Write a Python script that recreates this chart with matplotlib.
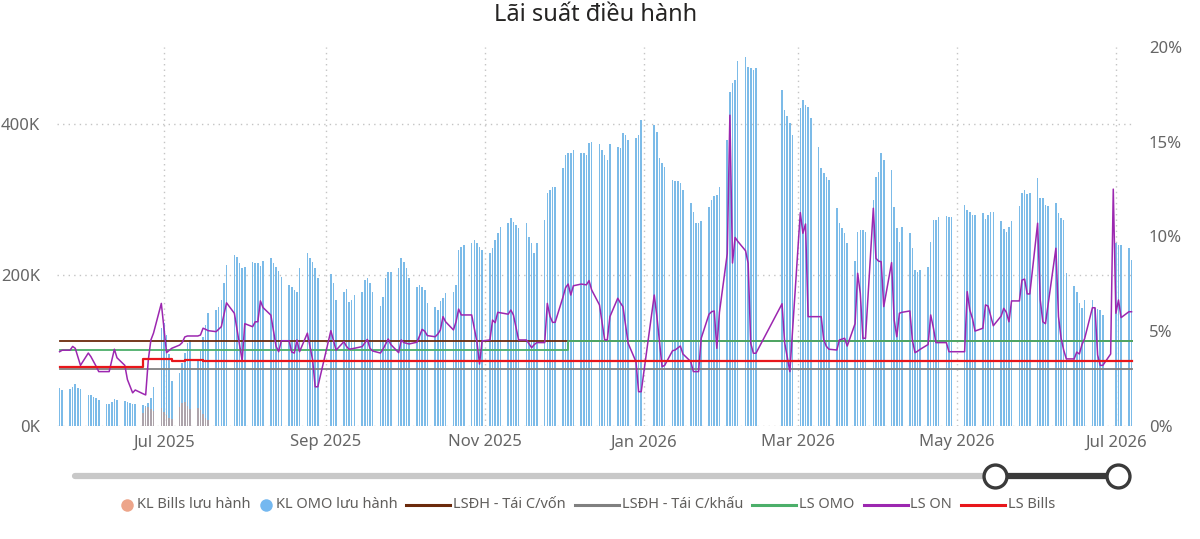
import matplotlib
matplotlib.use("Agg")
import matplotlib.pyplot as plt
import matplotlib.dates as mdates
import numpy as np
import pandas as pd

plt.rcParams['font.family'] = ['Noto Sans', 'DejaVu Sans']

nan = np.nan

# --- KL OMO lưu hành (nghìn tỷ, hiển thị dạng K), mỗi dòng = 1 tuần làm việc ---
omo_start = "2025-05-22"
omo_end = "2026-07-07"
omo_vals = [
    50, 48,
    49, 52, 55, 50, 49,
    41, 41, 39, 37, 34,
    29, 29, 32, 36, 34,
    33, 32, 30, 29, 29,
    28, 26, 30, 37, 52,
    130, 136, 120, 95, 60,
    70, 83, 97, 110, 114,
    88, 100, 118, 134, 150,
    154, 158, 167, 189, 213,
    226, 224, 216, 209, 211,
    217, 216, 216, 212, 218,
    222, 216, 211, 205, 197,
    187, 184, 180, 178, 209,
    229, 222, 217, 209, 196,
    nan, nan, 201, 189, 167,
    178, 182, 164, 167, 173,
    178, 193, 196, 189, 178,
    159, 171, 196, 204, 204,
    209, 222, 217, 209, 196,
    184, 187, 184, 180, 163,
    158, 154, 165, 170, 176,
    178, 187, 233, 237, 240,
    242, 246, 242, 237, 233,
    229, 236, 246, 255, 264,
    269, 275, 270, 266, 262,
    269, 250, 242, 229, 242,
    273, 308, 312, 317, 317,
    342, 359, 362, 362, 366,
    362, 362, 359, 375, 376,
    373, 366, 359, 352, 373,
    370, 368, 388, 385, 379,
    381, 385, 405, nan, nan,
    399, 390, 355, 348, 343,
    326, 324, 324, 322, 313,
    295, 284, 269, 269, 271,
    290, 299, 304, 306, 317,
    379, 443, 454, 458, 483,
    489, 476, 474, 472, 474,
    nan, nan, nan, nan, nan,
    445, 419, 410, 401, 385,
    421, 432, 425, 423, 408,
    370, 342, 335, 330, 326,
    289, 269, 262, 255, 242,
    218, 257, 260, 260, 257,
    300, 330, 337, 361, 352,
    339, 290, 262, 244, 264,
    255, 236, 207, 204, 207,
    211, 244, 273, 273, 277,
    278, 277, 277, nan, nan,
    293, 286, 283, 280, 280,
    282, 274, 280, 283, 284,
    271, 261, 257, 264, 271,
    291, 308, 312, 307, 308,
    328, 302, 302, 293, 291,
    295, 282, 275, 273, 202,
    185, 178, 163, 156, 167,
    167, 156, 155, 154, 147,
    nan, nan, 242, 240, 240,
    236, 220,
]

# --- KL Bills lưu hành ---
bills_start = "2025-06-23"
bills_vals = [17, 24, 25, 22, 20,
              24, 19, 14, 11, 9,
              25, 30, 32, 27, 22,
              24, 21, 16, 11, 8]

# --- LS ON (%) ---
on_dates = [
    "2025-05-22", "2025-05-23", "2025-05-26", "2025-05-27", "2025-05-28", "2025-05-30",
    "2025-06-02", "2025-06-03", "2025-06-05", "2025-06-06", "2025-06-10", "2025-06-12",
    "2025-06-13", "2025-06-16", "2025-06-17", "2025-06-19", "2025-06-20", "2025-06-23",
    "2025-06-24", "2025-06-25", "2025-06-26", "2025-06-27", "2025-06-30", "2025-07-02",
    "2025-07-04", "2025-07-07", "2025-07-08", "2025-07-09", "2025-07-10", "2025-07-14",
    "2025-07-15", "2025-07-16", "2025-07-17", "2025-07-18", "2025-07-21", "2025-07-23",
    "2025-07-25", "2025-07-28", "2025-07-31", "2025-08-01", "2025-08-04", "2025-08-05",
    "2025-08-06", "2025-08-07", "2025-08-08", "2025-08-11", "2025-08-13", "2025-08-14",
    "2025-08-15", "2025-08-18", "2025-08-19", "2025-08-20", "2025-08-21", "2025-08-22",
    "2025-08-25", "2025-08-27", "2025-08-28", "2025-08-29", "2025-09-03", "2025-09-05",
    "2025-09-08", "2025-09-09", "2025-09-10", "2025-09-12", "2025-09-15", "2025-09-17",
    "2025-09-18", "2025-09-19", "2025-09-22", "2025-09-23", "2025-09-25", "2025-09-26",
    "2025-09-29", "2025-09-30", "2025-10-01", "2025-10-03", "2025-10-06", "2025-10-07",
    "2025-10-08", "2025-10-09", "2025-10-10", "2025-10-13", "2025-10-14", "2025-10-15",
    "2025-10-16", "2025-10-17", "2025-10-20", "2025-10-21", "2025-10-22", "2025-10-23",
    "2025-10-27", "2025-10-29", "2025-10-30", "2025-10-31", "2025-11-03", "2025-11-04",
    "2025-11-05", "2025-11-06", "2025-11-10", "2025-11-11", "2025-11-12", "2025-11-14",
    "2025-11-17", "2025-11-19", "2025-11-20", "2025-11-21", "2025-11-24", "2025-11-25",
    "2025-11-26", "2025-11-27", "2025-11-28", "2025-12-01", "2025-12-02", "2025-12-03",
    "2025-12-04", "2025-12-05", "2025-12-08", "2025-12-10", "2025-12-11", "2025-12-12",
    "2025-12-15", "2025-12-17", "2025-12-18", "2025-12-19", "2025-12-22", "2025-12-23",
    "2025-12-24", "2025-12-26", "2025-12-29", "2025-12-30", "2025-12-31", "2026-01-05",
    "2026-01-06", "2026-01-08", "2026-01-09", "2026-01-12", "2026-01-13", "2026-01-15",
    "2026-01-16", "2026-01-19", "2026-01-20", "2026-01-22", "2026-01-23", "2026-01-26",
    "2026-01-27", "2026-01-28", "2026-01-29", "2026-01-30", "2026-02-02", "2026-02-03",
    "2026-02-04", "2026-02-05", "2026-02-06", "2026-02-09", "2026-02-10", "2026-02-11",
    "2026-02-12", "2026-02-13", "2026-02-23", "2026-02-24", "2026-02-26", "2026-03-02",
    "2026-03-03", "2026-03-04", "2026-03-05", "2026-03-10", "2026-03-11", "2026-03-12",
    "2026-03-13", "2026-03-16", "2026-03-17", "2026-03-19", "2026-03-20", "2026-03-23",
    "2026-03-24", "2026-03-25", "2026-03-26", "2026-03-27", "2026-03-30", "2026-03-31",
    "2026-04-01", "2026-04-02", "2026-04-03", "2026-04-06", "2026-04-07", "2026-04-08",
    "2026-04-09", "2026-04-10", "2026-04-13", "2026-04-14", "2026-04-15", "2026-04-16",
    "2026-04-17", "2026-04-20", "2026-04-21", "2026-04-22", "2026-04-23", "2026-04-27",
    "2026-04-28", "2026-05-04", "2026-05-05", "2026-05-06", "2026-05-07", "2026-05-08",
    "2026-05-11", "2026-05-12", "2026-05-13", "2026-05-15", "2026-05-18", "2026-05-19",
    "2026-05-20", "2026-05-21", "2026-05-22", "2026-05-25", "2026-05-26", "2026-05-27",
    "2026-05-28", "2026-05-29", "2026-06-01", "2026-06-02", "2026-06-03", "2026-06-04",
    "2026-06-08", "2026-06-09", "2026-06-10", "2026-06-11", "2026-06-12", "2026-06-15",
    "2026-06-16", "2026-06-17", "2026-06-18", "2026-06-19", "2026-06-22", "2026-06-23",
    "2026-06-24", "2026-06-25", "2026-06-26", "2026-06-29", "2026-06-30", "2026-07-01",
    "2026-07-02", "2026-07-03", "2026-07-06", "2026-07-07",
]
on_vals = [
    3.92, 4.0, 4.0, 4.2, 4.1, 3.2,
    3.85, 3.66, 3.15, 2.87, 2.87, 4.05,
    3.6, 3.2, 2.45, 1.75, 1.9, 1.7,
    1.64, 3.48, 4.54, 4.9, 6.47, 3.87,
    4.1, 4.27, 4.4, 4.7, 4.75, 4.75,
    4.8, 5.16, 5.1, 5.03, 4.98, 5.24,
    6.5, 5.95, 3.45, 5.4, 5.24, 5.5,
    5.5, 6.6, 6.25, 5.85, 4.2, 3.92,
    4.5, 4.5, 3.9, 3.85, 4.54, 3.92,
    4.9, 3.5, 2.07, 2.07, 5.03, 4.0,
    4.45, 4.2, 4.05, 4.1, 4.19, 4.57,
    4.1, 3.96, 3.85, 4.05, 4.59, 4.3,
    3.87, 4.54, 4.4, 4.33, 4.42, 4.75,
    5.1, 5.0, 4.77, 4.71, 4.85, 5.07,
    5.77, 5.5, 5.07, 5.5, 6.17, 5.86,
    5.86, 4.45, 3.27, 4.49, 4.54, 5.59,
    5.45, 6.0, 5.9, 6.12, 5.86, 4.54,
    4.54, 4.13, 4.3, 4.4, 4.4, 6.47,
    5.8, 5.47, 5.47, 6.8, 7.3, 7.49,
    6.91, 7.4, 7.49, 7.45, 7.67, 7.18,
    6.39, 4.54, 4.54, 5.77, 6.74, 6.5,
    6.3, 4.36, 3.39, 1.81, 1.81, 6.91,
    5.8, 3.13, 3.2, 3.97, 4.01, 4.22,
    3.8, 3.4, 2.87, 2.87, 4.63, 5.9,
    6.03, 6.07, 4.1, 6.0, 9.1, 16.4,
    8.6, 9.95, 9.75, 9.25, 8.59, 4.36,
    3.84, 3.84, 6.45, 4.4, 2.87, 11.26,
    10.17, 10.66, 5.77, 5.77, 4.54, 4.2,
    4.05, 4.01, 4.54, 4.63, 4.22, 5.4,
    8.06, 7.0, 4.63, 4.63, 11.49, 8.85,
    8.7, 8.67, 6.3, 8.62, 5.59, 4.71,
    5.95, 6.0, 6.07, 4.5, 3.87, 3.95,
    4.05, 4.3, 5.86, 5.2, 4.4, 4.4,
    3.92, 3.92, 7.09, 6.12, 5.68, 5.01,
    5.16, 6.39, 6.33, 5.29, 5.8, 6.21,
    6.0, 5.5, 6.6, 6.6, 7.7, 7.75,
    6.97, 6.97, 10.7, 6.65, 5.5, 5.4,
    9.38, 5.77, 4.63, 4.0, 3.54, 3.54,
    3.9, 3.8, 4.3, 4.6, 6.24, 6.24,
    3.75, 3.2, 3.2, 3.8, 12.5, 5.95,
    6.65, 5.72, 6.03, 6.03,
]

# --- Lãi suất điều hành (bậc thang) ---
von_dates = ["2025-05-22", "2026-07-07"]
von_rate = [4.5, 4.5]
khau_dates = ["2025-05-22", "2026-07-07"]
khau_rate = [3.0, 3.0]
lsomo_dates = ["2025-05-22", "2025-12-03", "2026-07-07"]
lsomo_rate = [4.0, 4.5, 4.5]
lsbills_dates = ["2025-05-22", "2025-06-23", "2025-07-04", "2025-07-09", "2025-07-16", "2026-07-07"]
lsbills_rate = [3.1, 3.55, 3.42, 3.48, 3.43, 3.43]

# --- colours ---
c_omo = "#7cbbe8"
c_bills_bar = "#ada4ab"
c_bills_leg = "#eda58a"
c_von = "#6b2a0c"
c_khau = "#808080"
c_lsomo = "#4caf6a"
c_on = "#9c27b0"
c_red = "#e8161b"
c_tick = "#666666"

W, H = 1200, 539
fig = plt.figure(figsize=(W / 100, H / 100), dpi=100)
ax = fig.add_axes([57 / W, 1 - 426 / H, (1135 - 57) / W, 379 / H])
ax2 = ax.twinx()

omo_days = pd.bdate_range(omo_start, omo_end)
assert len(omo_days) == len(omo_vals)
ax.bar(omo_days, omo_vals, width=0.6, color=c_omo, linewidth=0, zorder=2)
bills_days = pd.bdate_range(bills_start, periods=len(bills_vals))
ax.bar(bills_days, bills_vals, width=0.6, color=c_bills_bar, linewidth=0, zorder=3)

ax2.plot(pd.to_datetime(von_dates), von_rate, color=c_von, lw=1.3, drawstyle="steps-post", zorder=2)
ax2.plot(pd.to_datetime(khau_dates), khau_rate, color=c_khau, lw=1.3, drawstyle="steps-post", zorder=2)
ax2.plot(pd.to_datetime(lsomo_dates), lsomo_rate, color=c_lsomo, lw=1.3, drawstyle="steps-post", zorder=3)
ax2.plot(pd.to_datetime(on_dates), on_vals, color=c_on, lw=1.1, zorder=4)
ax2.plot(pd.to_datetime(lsbills_dates), lsbills_rate, color=c_red, lw=1.6, drawstyle="steps-post", zorder=5)

ax.set_xlim(pd.Timestamp("2025-05-21"), pd.Timestamp("2026-07-08 08:00"))
ax.set_ylim(0, 502)
ax2.set_ylim(0, 20)
ax.set_yticks([0, 200, 400])
ax.yaxis.set_major_formatter(plt.FuncFormatter(lambda v, p: f"{v:.0f}K"))
ax2.set_yticks([0, 5, 10, 15, 20])
ax2.yaxis.set_major_formatter(plt.FuncFormatter(lambda v, p: f"{v:.0f}%"))
ax.xaxis.set_major_locator(mdates.MonthLocator(bymonth=[1, 3, 5, 7, 9, 11]))
ax.xaxis.set_major_formatter(mdates.DateFormatter("%b %Y"))

grid_kw = dict(color="#c4c4c4", linestyle=(0, (1, 3)), linewidth=1)
ax.grid(axis="both", **grid_kw)
ax.set_axisbelow(True)
for a in (ax, ax2):
    for s in a.spines.values():
        s.set_visible(False)
    a.tick_params(length=0, labelsize=12, labelcolor=c_tick)
ax.tick_params(axis="y", pad=12)
ax2.tick_params(axis="y", pad=10)
ax.tick_params(axis="x", pad=6)

fig.text(596 / W, 1 - 15 / H, "Lãi suất điều hành", ha="center", va="center",
         fontsize=17, color="#252423")

# --- overlay in pixel coordinates: slider + legend ---
ov = fig.add_axes([0, 0, 1, 1])
ov.set_xlim(0, W)
ov.set_ylim(H, 0)
ov.axis("off")

ov.plot([75, 995], [476, 476], color="#c8c8c8", lw=4.5, solid_capstyle="round")
ov.plot([995, 1118], [476, 476], color="#3a3a3a", lw=4.5)
ov.plot([995, 1118], [476, 476], "o", ms=16.5, mfc="white", mec="#3a3a3a", mew=2.4)

legend_items = [
    ("KL Bills lưu hành", "dot", c_bills_leg),
    ("KL OMO lưu hành", "dot", "#74b8f0"),
    ("LSĐH - Tái C/vốn", "line", c_von),
    ("LSĐH - Tái C/khấu", "line", c_khau),
    ("LS OMO", "line", c_lsomo),
    ("LS ON", "line", c_on),
    ("LS Bills", "line", c_red),
]
renderer = fig.canvas.get_renderer()
x, y = 121, 505
for label, kind, col in legend_items:
    if kind == "dot":
        ov.plot([x + 6], [y], "o", ms=9, color=col, mec="none")
        x += 16
    else:
        ov.plot([x, x + 44], [y, y], color=col, lw=2.2)
        x += 47
    t = ov.text(x, y, label, ha="left", va="center", fontsize=10.5, color="#605e5c")
    x += t.get_window_extent(renderer).width + 9

fig.savefig("out.png", dpi=100)
